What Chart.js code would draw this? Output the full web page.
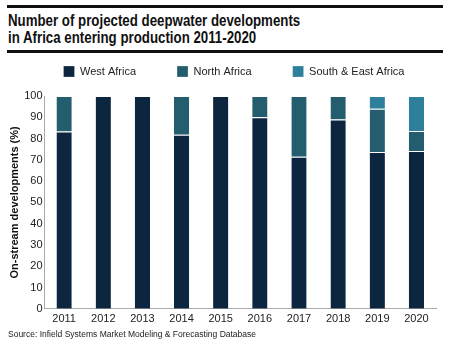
<!DOCTYPE html>
<html>
<head>
<meta charset="utf-8">
<script src="https://cdn.jsdelivr.net/npm/chart.js@4"></script>
<style>
  html, body { margin: 0; padding: 0; background: #fff; }
  body { width: 450px; height: 344px; position: relative; overflow: hidden; font-family: "Liberation Sans", Arial, sans-serif; }
  .rule { position: absolute; left: 7px; width: 436px; height: 3px; background: #111; }
  #title { position: absolute; left: 8px; top: 12px; font-weight: bold; font-size: 16px; line-height: 17px; color: #111;
           transform: scaleX(0.83); transform-origin: 0 0; white-space: nowrap; }
  #source { position: absolute; left: 8px; top: 329px; font-size: 8.5px; color: #222; }
  #wrap { position: absolute; left: 0; top: 25px; width: 450px; height: 305px; }
</style>
</head>
<body>
<div class="rule" style="top:5px"></div>
<div id="title">Number of projected deepwater developments<br>in Africa entering production 2011-2020</div>
<div class="rule" style="top:50px"></div>
<div id="wrap"><canvas id="chart"></canvas></div>
<div id="source">Source: Infield Systems Market Modeling &amp; Forecasting Database</div>

<script>
const years = ["2011", "2012", "2013", "2014", "2015", "2016", "2017", "2018", "2019", "2020"];
const westAfrica = [83.3, 100, 100, 81.8, 100, 90, 71.4, 88.9, 73.7, 74.2];
const northAfrica = [16.7, 0, 0, 18.2, 0, 10, 28.6, 11.1, 20.3, 9.4];
const southEastAfrica = [0, 0, 0, 0, 0, 0, 0, 0, 6, 16.4];

const LEGEND_PAD = 41;

// legend padding spaces the items apart; keep its box short and nudge it right
const legendTweak = {
    id: "legendTweak",
    beforeInit(chart) {
        const legend = chart.legend;
        const fit = legend.fit;
        legend.fit = function () {
            fit.call(this);
            this.height = 71;
        };
    },
    afterLayout(chart) {
        chart.legend.left += 12;
        chart.legend.right += 12;
    }
};

const segBorder = { top: 1, bottom: 0, left: 0, right: 0 };

const chart = new Chart(document.getElementById("chart"), {
    type: "bar",
    data: {
        labels: years,
        datasets: [
            { label: "West Africa", data: westAfrica, backgroundColor: "#0d2640" },
            { label: "North Africa", data: northAfrica, backgroundColor: "#235d6e" },
            { label: "South & East Africa", data: southEastAfrica, backgroundColor: "#2e7f9c" }
        ].map(ds => Object.assign(ds, {
            borderColor: "#ffffff",
            borderWidth: segBorder,
            borderSkipped: false,
            barPercentage: 0.39,
            categoryPercentage: 1
        }))
    },
    plugins: [legendTweak],
    options: {
        responsive: true,
        maintainAspectRatio: false,
        animation: false,
        layout: { padding: { left: 8, right: 14, top: 0, bottom: 0 } },
        plugins: {
            legend: {
                position: "top",
                labels: {
                    boxWidth: 11,
                    boxHeight: 11,
                    padding: LEGEND_PAD,
                    color: "#222",
                    font: { family: "Liberation Sans", size: 11 }
                }
            },
            tooltip: { enabled: false }
        },
        scales: {
            x: {
                stacked: true,
                grid: { display: false, drawTicks: false },
                border: { color: "#aaa", width: 1 },
                ticks: { color: "#222", padding: 4, font: { family: "Liberation Sans", size: 11 } }
            },
            y: {
                stacked: true,
                min: 0,
                max: 100,
                grid: { display: false, drawTicks: false },
                border: { color: "#aaa", width: 1 },
                ticks: { stepSize: 10, color: "#222", padding: 2, font: { family: "Liberation Sans", size: 11 } },
                title: {
                    display: true,
                    text: "On-stream developments (%)",
                    color: "#111",
                    padding: { top: 0, bottom: 1 },
                    font: { family: "Liberation Sans", size: 11, weight: "bold" }
                }
            }
        }
    }
});
</script>
</body>
</html>
